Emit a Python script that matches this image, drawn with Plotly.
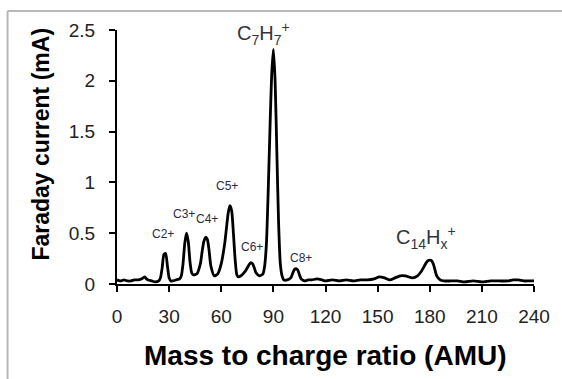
import plotly.graph_objects as go

mz = [0, 2, 4, 6, 8, 10, 12, 14, 15, 16, 17, 18, 20, 22, 24, 25, 26, 27, 28, 29, 30, 31, 32, 34, 36, 37, 38, 39, 40, 41, 42, 43, 44, 46, 48, 49, 50, 51, 52, 53, 54, 56, 58, 60, 62, 63, 64, 65, 66, 67, 68, 69, 70, 72, 73, 74, 76, 77, 78, 79, 80, 82, 84, 85, 86, 87, 88, 89, 90, 91, 92, 93, 94, 95, 96, 98, 100, 101, 102, 103, 104, 105, 106, 108, 110, 112, 115, 118, 120, 124, 128, 132, 136, 140, 144, 148, 151, 154, 157, 160, 163, 166, 170, 173, 175, 177, 178, 179, 180, 181, 182, 183, 184, 186, 188, 192, 196, 200, 205, 210, 215, 220, 225, 228, 231, 234, 237, 240]
current = [0.04, 0.03, 0.04, 0.03, 0.03, 0.04, 0.04, 0.05, 0.06, 0.07, 0.05, 0.04, 0.03, 0.02, 0.03, 0.06, 0.16, 0.29, 0.30, 0.18, 0.06, 0.03, 0.03, 0.04, 0.05, 0.08, 0.20, 0.40, 0.50, 0.42, 0.22, 0.11, 0.09, 0.10, 0.20, 0.32, 0.42, 0.46, 0.44, 0.33, 0.18, 0.08, 0.10, 0.20, 0.40, 0.55, 0.70, 0.77, 0.72, 0.50, 0.24, 0.09, 0.07, 0.09, 0.11, 0.13, 0.19, 0.21, 0.20, 0.16, 0.11, 0.08, 0.10, 0.18, 0.40, 0.90, 1.50, 2.05, 2.31, 2.00, 1.30, 0.60, 0.20, 0.08, 0.04, 0.04, 0.06, 0.10, 0.14, 0.15, 0.14, 0.09, 0.05, 0.03, 0.04, 0.04, 0.05, 0.04, 0.03, 0.04, 0.03, 0.04, 0.03, 0.04, 0.04, 0.05, 0.07, 0.06, 0.04, 0.06, 0.08, 0.08, 0.06, 0.08, 0.12, 0.18, 0.21, 0.23, 0.235, 0.23, 0.20, 0.14, 0.08, 0.04, 0.03, 0.03, 0.03, 0.02, 0.03, 0.02, 0.03, 0.03, 0.03, 0.04, 0.04, 0.03, 0.03, 0.03]

x_ticks = [0, 30, 60, 90, 120, 150, 180, 210, 240]
y_ticks = [0, 0.5, 1, 1.5, 2, 2.5]
y_tick_labels = ["0", "0.5", "1", "1.5", "2", "2.5"]

small_labels = ["C2+", "C3+", "C4+", "C5+", "C6+", "C8+"]
small_label_x = [26.4, 38.5, 51.7, 63.2, 77.6, 105.7]
small_label_y = [0.49, 0.69, 0.64, 0.96, 0.36, 0.26]

big_labels = ["C<sub>7</sub>H<sub>7</sub><sup>+</sup>", "C<sub>14</sub>H<sub>x</sub><sup>+</sup>"]
big_label_x = [84.5, 177.6]
big_label_y = [2.47, 0.46]

FONT = "Liberation Sans, Arial, sans-serif"

fig = go.Figure()
fig.add_trace(go.Scatter(
    x=mz, y=current, mode="lines",
    line=dict(color="black", width=2.8, shape="spline", smoothing=0.6),
    showlegend=False, hoverinfo="skip",
))

for t, x, y in zip(small_labels, small_label_x, small_label_y):
    fig.add_annotation(x=x, y=y, text=t, showarrow=False,
                       font=dict(family=FONT, size=12, color="#2b2b45"),
                       xanchor="center", yanchor="middle")
for t, x, y in zip(big_labels, big_label_x, big_label_y):
    fig.add_annotation(x=x, y=y, text=t, showarrow=False,
                       font=dict(family=FONT, size=20, color="#333340"),
                       xanchor="center", yanchor="middle")

# axis titles
fig.add_annotation(xref="paper", yref="paper", x=0.501, y=-0.283,
                   text="<b>Mass to charge ratio (AMU)</b>", showarrow=False,
                   font=dict(family=FONT, size=28, color="black"),
                   xanchor="center", yanchor="middle")
fig.add_annotation(xref="paper", yref="paper", x=-0.181, y=0.551,
                   text="<b>Faraday current (mA)</b>", showarrow=False, textangle=-90,
                   font=dict(family=FONT, size=23, color="black"),
                   xanchor="center", yanchor="middle")

# outer frame (left and top edges only visible)
fig.add_shape(type="line", xref="paper", yref="paper", x0=-0.2625, x1=-0.2625, y0=-0.5, y1=1.0748,
              line=dict(color="#b8b8b8", width=2))
fig.add_shape(type="line", xref="paper", yref="paper", x0=-0.2625, x1=1.2, y0=1.0748, y1=1.0748,
              line=dict(color="#b8b8b8", width=2))

fig.update_xaxes(range=[0, 240], tickvals=x_ticks, ticks="outside", ticklen=6, tickwidth=2,
                 tickcolor="black", showline=True, linecolor="black", linewidth=2,
                 showgrid=False, zeroline=False, ticklabelstandoff=8,
                 tickfont=dict(family=FONT, size=19, color="#222222"))
fig.update_yaxes(range=[0, 2.5], tickvals=y_ticks, ticktext=y_tick_labels, ticks="outside",
                 ticklen=6, tickwidth=2, tickcolor="black", showline=True, linecolor="black",
                 linewidth=2, showgrid=False, zeroline=False, ticklabelstandoff=10,
                 tickfont=dict(family=FONT, size=19, color="#222222"))

fig.update_layout(
    width=562, height=379,
    margin=dict(l=117, r=26, t=30, b=95),
    plot_bgcolor="white", paper_bgcolor="white",
)

fig.write_html("out.html")
